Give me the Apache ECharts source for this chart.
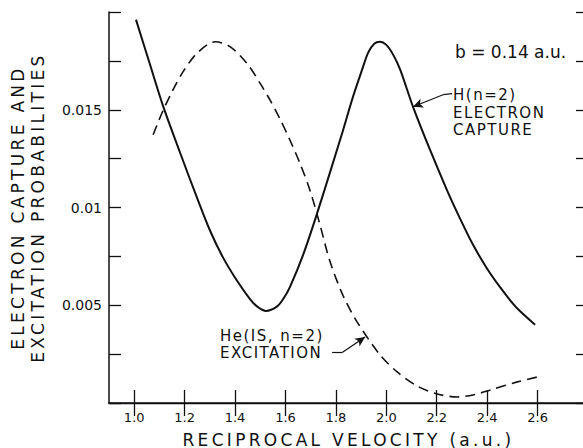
<!DOCTYPE html>
<html><head><meta charset="utf-8">
<script src="https://cdn.jsdelivr.net/npm/echarts@6/dist/echarts.min.js"></script>
<style>
html,body{margin:0;padding:0;background:#fff}
#c{width:583px;height:448px}
text[style*="TitleFace"]{letter-spacing:3.3px}
text[style*="NoteFace"]{letter-spacing:1.5px}
</style></head><body><div id="c"></div>
<script>
// H(n=2) electron capture (solid)
const captureV = [1.007,1.063,1.114,1.182,1.249,1.301,1.352,1.408,1.460,1.487,1.522,1.567,1.594,1.618,1.670,1.721,1.789,1.829,1.868,1.904,1.928,1.952,1.975,1.999,2.027,2.055,2.106,2.174,2.241,2.293,2.344,2.400,2.452,2.503,2.531,2.590];
const captureP = [0.01961,0.0173,0.01521,0.0128,0.0105,0.00881,0.00745,0.00625,0.0053,0.00494,0.00471,0.00494,0.00538,0.00594,0.00758,0.00952,0.01231,0.01398,0.01567,0.01705,0.01792,0.01838,0.01848,0.01833,0.01782,0.01705,0.01515,0.01293,0.01088,0.00942,0.00809,0.00687,0.00591,0.00507,0.00469,0.0040];
// He(1s, n=2) excitation (dashed)
const excitV = [1.075,1.114,1.154,1.194,1.249,1.321,1.380,1.448,1.499,1.539,1.579,1.618,1.658,1.698,1.737,1.777,1.829,1.884,1.975,2.043,2.122,2.202,2.281,2.344,2.413,2.520,2.599];
const excitP = [0.01372,0.01495,0.01602,0.01695,0.01789,0.01848,0.01823,0.01736,0.01636,0.01549,0.01451,0.01344,0.01224,0.01085,0.00911,0.00722,0.00548,0.00415,0.00246,0.00159,0.00087,0.00046,0.00031,0.00041,0.00067,0.00108,0.00133];
// axis ticks and labels
const xTicks = [1.0,1.2,1.4,1.6,1.8,2.0,2.2,2.4,2.6];
const yTicks = [0,0.0025,0.005,0.0075,0.01,0.0125,0.015,0.0175,0.02];
const yLabelVals = [0.005,0.01,0.015];
const yLabelTexts = ['0.005','0.01','0.015'];
// annotation arrows (data space)
const arrowCapture = [[2.261,0.01582],[2.225,0.01577],[2.106,0.01515]];
const arrowExcit = [[1.785,0.00258],[1.825,0.00258],[1.916,0.00338]];

const ink = '#111';
const zip = (a,b) => a.map((v,i)=>[v,b[i]]);
function arrowLines(pts){
  const out = [];
  for (let i=0;i<pts.length-1;i++){
    out.push([{coord:pts[i],symbol:'none'},{coord:pts[i+1],symbol: i===pts.length-2?'arrow':'none'}]);
  }
  return out;
}
const tickStyle = {color:ink,width:1.3};
const chart = echarts.init(document.getElementById('c'), null, {renderer:'svg'});
chart.setOption({
  animation:false,
  backgroundColor:'#fff',
  grid:{left:109,right:-5,top:12,bottom:45,outerBoundsMode:'none',containLabel:false},
  xAxis:[{
    type:'value',min:0.9,max:2.8,position:'bottom',
    axisLine:{lineStyle:{color:ink,width:1.5}},
    axisTick:{inside:true,length:13,customValues:xTicks,lineStyle:tickStyle},
    axisLabel:{customValues:xTicks,formatter:v=>v.toFixed(1),margin:8,fontSize:13,color:ink,fontFamily:'DejaVu Sans'},
    splitLine:{show:false},
    name:'RECIPROCAL VELOCITY (a.u.)',nameLocation:'middle',nameGap:28,
    nameTextStyle:{fontFamily:"TitleFace, 'DejaVu Sans'",fontSize:17,color:ink}
  },{
    type:'value',min:0.9,max:2.8,position:'top',
    axisLine:{lineStyle:{color:ink,width:1.3}},
    axisTick:{inside:true,length:13,customValues:xTicks,lineStyle:tickStyle},
    axisLabel:{show:false},splitLine:{show:false}
  }],
  yAxis:[{
    type:'value',min:0,max:0.02,position:'left',
    axisLine:{lineStyle:{color:ink,width:1.5}},
    axisTick:{inside:true,length:12,customValues:yTicks,lineStyle:tickStyle},
    axisLabel:{customValues:yLabelVals,formatter:v=>{const i=yLabelVals.findIndex(x=>Math.abs(x-v)<1e-9);return i>=0?yLabelTexts[i]:'';},margin:7,fontSize:14,color:ink,fontFamily:'DejaVu Sans'},
    splitLine:{show:false},
    name:'ELECTRON CAPTURE AND\nEXCITATION PROBABILITIES',nameLocation:'middle',nameGap:61,
    nameTextStyle:{fontFamily:"TitleFace, 'DejaVu Sans'",fontSize:17,lineHeight:20,color:ink}
  },{
    type:'value',min:0,max:0.02,position:'right',
    axisLine:{lineStyle:{color:ink,width:1.5}},
    axisTick:{inside:true,length:12,customValues:yTicks,lineStyle:tickStyle},
    axisLabel:{show:false},splitLine:{show:false}
  }],
  series:[{
    name:'H(n=2) electron capture',type:'line',smooth:0.3,showSymbol:false,
    data:zip(captureV,captureP),
    lineStyle:{color:ink,width:2},
    markLine:{silent:true,animation:false,label:{show:false},symbolSize:[7,10],
      lineStyle:{color:ink,width:1.2,type:'solid'},data:arrowLines(arrowCapture)}
  },{
    name:'He(1S, n=2) excitation',type:'line',smooth:0.3,showSymbol:false,
    data:zip(excitV,excitP),
    lineStyle:{color:ink,width:1.6,type:[10,6]},
    markLine:{silent:true,animation:false,label:{show:false},symbolSize:[7,10],
      lineStyle:{color:ink,width:1.2,type:'solid'},data:arrowLines(arrowExcit)}
  }],
  graphic:[
    {type:'text',x:455,y:52,style:{text:'b = 0.14 a.u.',fontFamily:'DejaVu Sans',fontSize:17,fill:ink,verticalAlign:'middle'}},
    {type:'text',x:453,y:112.5,style:{text:'H(n=2)\nELECTRON\nCAPTURE',fontFamily:"NoteFace, 'DejaVu Sans'",fontSize:15,lineHeight:17.5,fill:ink,verticalAlign:'middle'}},
    {type:'text',x:220,y:344.5,style:{text:'He(IS, n=2)\nEXCITATION',fontFamily:"NoteFace, 'DejaVu Sans'",fontSize:15,lineHeight:17,fill:ink,verticalAlign:'middle'}}
  ]
});
</script></body></html>
